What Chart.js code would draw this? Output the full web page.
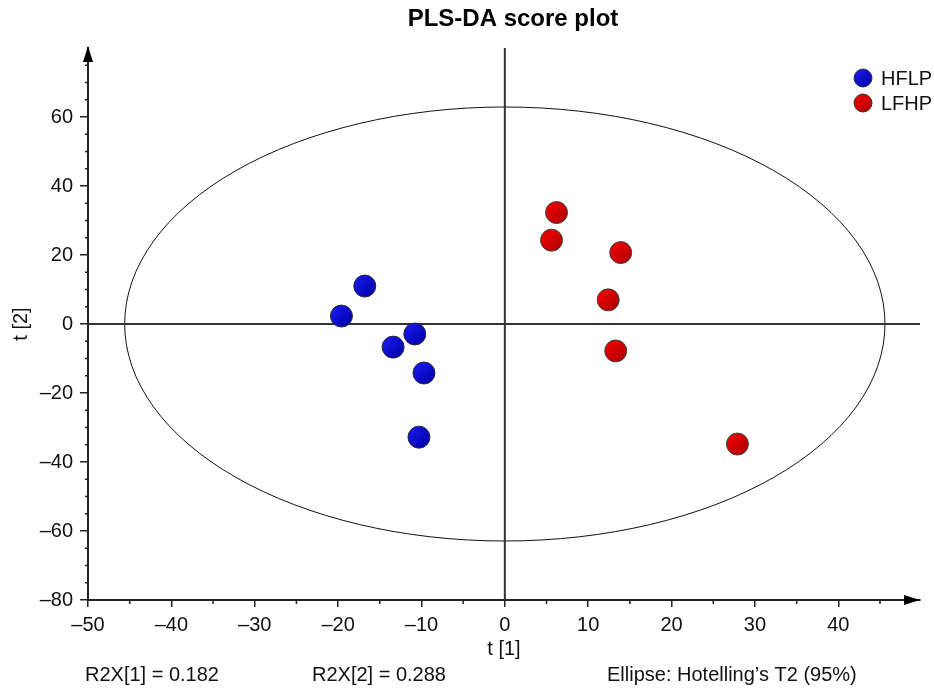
<!DOCTYPE html>
<html>
<head>
<meta charset="utf-8">
<title>PLS-DA score plot</title>
<script src="https://cdn.jsdelivr.net/npm/chart.js@4.4.1/dist/chart.umd.min.js"></script>
<style>
  html, body { margin: 0; padding: 0; background: #fff; }
  #wrap { width: 934px; height: 688px; }
</style>
</head>
<body>
<div id="wrap"><canvas id="plsChart" width="934" height="688"></canvas></div>
<script>
// Score data
const hflpT1 = [-16.8, -19.6, -13.4, -10.8, -9.7, -10.3];
const hflpT2 = [11.0, 2.3, -6.7, -2.9, -14.2, -32.8];
const lfhpT1 = [6.2, 5.6, 13.9, 12.4, 13.3, 27.9];
const lfhpT2 = [32.3, 24.3, 20.7, 7.0, -7.8, -34.8];

const xTicks = [-50, -40, -30, -20, -10, 0, 10, 20, 30, 40];
const yTicks = [-80, -60, -40, -20, 0, 20, 40, 60];

// Hotelling's T2 ellipse semi-axes (in score units)
const ellipseT1 = 45.6;
const ellipseT2 = 62.9;

const footNotes = ['R2X[1] = 0.182', 'R2X[2] = 0.288', 'Ellipse: Hotelling\u2019s T2 (95%)'];

const FONT = '"Liberation Sans", Arial, sans-serif';
const AXIS = '#222';

function toPoints(xs, ys) {
    return xs.map((x, i) => ({ x: x, y: ys[i] }));
}

function fmt(v) {
    return v < 0 ? '\u2013' + Math.abs(v) : String(v);
}

// shaded ball fill for each marker
function ballFill(light, dark) {
    return (ctx) => {
        const chart = ctx.chart;
        if (!ctx.raw || !chart.scales.x || !chart.scales.y) return dark;
        const px = chart.scales.x.getPixelForValue(ctx.raw.x);
        const py = chart.scales.y.getPixelForValue(ctx.raw.y);
        if (!isFinite(px) || !isFinite(py)) return dark;
        const g = chart.ctx.createLinearGradient(px - 9, py - 9, px + 9, py + 9);
        g.addColorStop(0, light);
        g.addColorStop(1, dark);
        return g;
    };
}

const decorations = {
    id: 'decorations',
    beforeDatasetsDraw(chart) {
        const { ctx, chartArea: a, scales: { x, y } } = chart;
        const x0 = x.getPixelForValue(0);
        const y0 = y.getPixelForValue(0);
        ctx.save();

        // ellipse
        ctx.beginPath();
        ctx.ellipse(x0, y0,
            x.getPixelForValue(ellipseT1) - x0,
            y0 - y.getPixelForValue(ellipseT2), 0, 0, Math.PI * 2);
        ctx.strokeStyle = '#111';
        ctx.lineWidth = 1;
        ctx.stroke();

        // zero lines
        ctx.strokeStyle = '#333';
        ctx.lineWidth = 2;
        ctx.beginPath();
        ctx.moveTo(x0, a.top);
        ctx.lineTo(x0, a.bottom);
        ctx.moveTo(a.left, y0);
        ctx.lineTo(a.right, y0);
        ctx.stroke();
        ctx.restore();
    },
    afterDraw(chart) {
        const { ctx, chartArea: a, scales: { x, y } } = chart;
        ctx.save();

        // minor ticks
        ctx.strokeStyle = AXIS;
        ctx.lineWidth = 1.5;
        ctx.beginPath();
        for (let v = -45; v <= 45; v += 10) {
            const px = x.getPixelForValue(v);
            ctx.moveTo(px, a.bottom);
            ctx.lineTo(px, a.bottom + 4);
        }
        for (let v = -75; v <= 75; v += 5) {
            if (v % 20 === 0) continue;
            const py = y.getPixelForValue(v);
            ctx.moveTo(a.left - 3, py);
            ctx.lineTo(a.left + 1, py);
        }
        ctx.stroke();

        // arrow heads
        ctx.fillStyle = '#000';
        ctx.beginPath();
        ctx.moveTo(a.left, a.top - 2);
        ctx.lineTo(a.left - 5, a.top + 14);
        ctx.lineTo(a.left + 5, a.top + 14);
        ctx.closePath();
        ctx.fill();
        ctx.beginPath();
        ctx.moveTo(a.right, a.bottom);
        ctx.lineTo(a.right - 16, a.bottom - 5);
        ctx.lineTo(a.right - 16, a.bottom + 5);
        ctx.closePath();
        ctx.fill();

        // title
        ctx.fillStyle = '#000';
        ctx.font = 'bold 24px ' + FONT;
        ctx.textAlign = 'center';
        ctx.textBaseline = 'middle';
        ctx.fillText('PLS-DA score plot', 513, 19);

        // legend
        ctx.font = '20px ' + FONT;
        ctx.textAlign = 'left';
        chart.data.datasets.forEach((ds, i) => {
            const cy = 78 + i * 25;
            const g = ctx.createLinearGradient(856, cy - 8, 870, cy + 8);
            g.addColorStop(0, ds.lightColor);
            g.addColorStop(1, ds.darkColor);
            ctx.beginPath();
            ctx.arc(863, cy, 9, 0, Math.PI * 2);
            ctx.fillStyle = g;
            ctx.fill();
            ctx.strokeStyle = '#333';
            ctx.lineWidth = 1;
            ctx.stroke();
            ctx.fillStyle = '#111';
            ctx.fillText(ds.label, 881, cy + 1);
        });

        // footnotes
        ctx.font = '20px ' + FONT;
        ctx.fillStyle = '#111';
        ctx.fillText(footNotes[0], 85, 675);
        ctx.fillText(footNotes[1], 312, 675);
        ctx.fillText(footNotes[2], 607, 675);
        ctx.restore();
    }
};

new Chart(document.getElementById('plsChart'), {
    type: 'scatter',
    data: {
        datasets: [
            {
                label: 'HFLP',
                data: toPoints(hflpT1, hflpT2),
                lightColor: '#1a1aee',
                darkColor: '#0000a8',
                backgroundColor: ballFill('#1a1aee', '#0000a8'),
                borderColor: '#2a2a3a',
                borderWidth: 1,
                pointRadius: 11,
                pointHoverRadius: 11
            },
            {
                label: 'LFHP',
                data: toPoints(lfhpT1, lfhpT2),
                lightColor: '#f20000',
                darkColor: '#b00000',
                backgroundColor: ballFill('#f20000', '#b00000'),
                borderColor: '#2f4a4a',
                borderWidth: 1,
                pointRadius: 11,
                pointHoverRadius: 11
            }
        ]
    },
    options: {
        responsive: false,
        animation: false,
        layout: { padding: { top: 48, right: 14, left: 0, bottom: 0 } },
        plugins: {
            legend: { display: false },
            title: { display: false },
            tooltip: { enabled: false }
        },
        scales: {
            x: {
                type: 'linear',
                min: -50,
                max: 49.8,
                afterFit: (s) => { s.height = 88; },
                afterBuildTicks: (s) => { s.ticks = xTicks.map(v => ({ value: v })); },
                grid: { drawOnChartArea: false, drawTicks: true, tickLength: 7, color: AXIS, lineWidth: 1.5 },
                border: { display: true, color: AXIS, width: 2 },
                ticks: {
                    padding: 6,
                    maxRotation: 0,
                    autoSkip: false,
                    color: '#111',
                    font: { family: FONT, size: 20 },
                    callback: (v) => fmt(v)
                },
                title: {
                    display: true,
                    text: 't [1]',
                    color: '#111',
                    font: { family: FONT, size: 20 },
                    padding: { top: 0, bottom: 27 }
                }
            },
            y: {
                type: 'linear',
                min: -80,
                max: 80,
                afterFit: (s) => { s.width = 88; },
                afterBuildTicks: (s) => { s.ticks = yTicks.map(v => ({ value: v })); },
                grid: { drawOnChartArea: false, drawTicks: true, tickLength: 8, color: AXIS, lineWidth: 1.5 },
                border: { display: true, color: AXIS, width: 2 },
                ticks: {
                    padding: 7,
                    autoSkip: false,
                    color: '#111',
                    font: { family: FONT, size: 20 },
                    callback: (v) => fmt(v)
                },
                title: {
                    display: true,
                    text: 't [2]',
                    color: '#111',
                    font: { family: FONT, size: 20 },
                    padding: { top: 9, bottom: 0 }
                }
            }
        }
    },
    plugins: [decorations]
});
</script>
</body>
</html>
